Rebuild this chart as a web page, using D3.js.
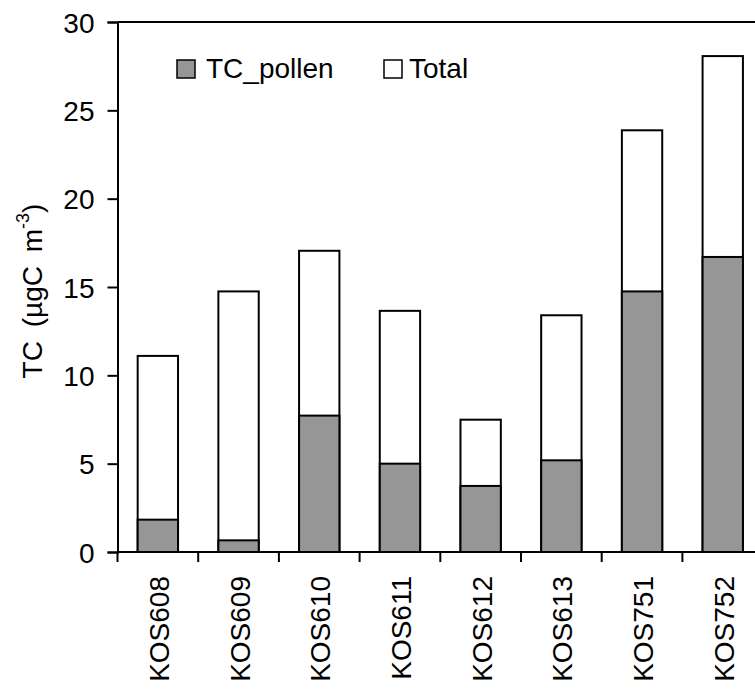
<!DOCTYPE html>
<html>
<head>
<meta charset="utf-8">
<script src="https://cdn.jsdelivr.net/npm/d3@7"></script>
<style>
  body { margin: 0; background: #fff; }
  text { font-family: "Liberation Sans", Arial, sans-serif; fill: #000; }
</style>
</head>
<body>
<svg id="chart" width="755" height="690"></svg>
<script>
// data
var samples = ['KOS608', 'KOS609', 'KOS610', 'KOS611', 'KOS612', 'KOS613', 'KOS751', 'KOS752'];
var pollen = [1.83, 0.66, 7.72, 5.0, 3.74, 5.19, 14.75, 16.7];
var total = [11.1, 14.75, 17.05, 13.65, 7.49, 13.4, 23.87, 28.07];
var yTicks = [0, 5, 10, 15, 20, 25, 30];
var seriesNames = ['TC_pollen', 'Total'];

var margin = { top: 22, left: 117.5, bottom: 138 };
var bandW = 80.7;

var svg = d3.select('#chart');
var H = 690;
var y0 = H - margin.bottom; // baseline

var x = d3.scaleBand()
    .domain(samples)
    .range([margin.left, margin.left + bandW * samples.length])
    .paddingInner(0.5)
    .paddingOuter(0.25);

var y = d3.scaleLinear()
    .domain([0, 30])
    .range([y0, margin.top]);

var g = svg.append('g');

// top frame line
g.append('line')
    .attr('x1', margin.left).attr('x2', 755)
    .attr('y1', y(30)).attr('y2', y(30))
    .attr('stroke', '#000').attr('stroke-width', 2);

// total bars (white)
g.selectAll('.tot')
    .data(samples)
    .enter().append('rect')
    .attr('class', 'tot')
    .attr('x', function (d) { return x(d); })
    .attr('width', x.bandwidth())
    .attr('y', function (d, i) { return y(total[i]); })
    .attr('height', function (d, i) { return y0 - y(total[i]); })
    .attr('fill', '#fff')
    .attr('stroke', '#000')
    .attr('stroke-width', 2);

// pollen bars (grey)
g.selectAll('.pol')
    .data(samples)
    .enter().append('rect')
    .attr('class', 'pol')
    .attr('x', function (d) { return x(d); })
    .attr('width', x.bandwidth())
    .attr('y', function (d, i) { return y(pollen[i]); })
    .attr('height', function (d, i) { return y0 - y(pollen[i]); })
    .attr('fill', '#969696')
    .attr('stroke', '#000')
    .attr('stroke-width', 2);

// y axis
var yAxis = d3.axisLeft(y)
    .tickValues(yTicks)
    .tickSize(10)
    .tickPadding(13);

var ya = g.append('g')
    .attr('transform', 'translate(' + margin.left + ',0)')
    .call(yAxis);
ya.select('.domain').attr('stroke-width', 2);
ya.selectAll('.tick line').attr('stroke-width', 2);
ya.selectAll('.tick text')
    .style('font-size', '28px')
    .attr('dy', '0.36em');

// x axis line + ticks at band boundaries
g.append('line')
    .attr('x1', margin.left).attr('x2', 755)
    .attr('y1', y0).attr('y2', y0)
    .attr('stroke', '#000').attr('stroke-width', 2);

g.selectAll('.xtick')
    .data(samples)
    .enter().append('line')
    .attr('class', 'xtick')
    .attr('x1', function (d) { return x(d) - x.step() * 0.25; })
    .attr('x2', function (d) { return x(d) - x.step() * 0.25; })
    .attr('y1', y0).attr('y2', y0 + 10)
    .attr('stroke', '#000').attr('stroke-width', 2);

g.selectAll('.xlab')
    .data(samples)
    .enter().append('text')
    .attr('class', 'xlab')
    .attr('transform', function (d) {
        return 'translate(' + (x(d) + x.bandwidth() / 2 + 11) + ',' + (y0 + 24) + ') rotate(-90)';
    })
    .attr('text-anchor', 'end')
    .style('font-size', '28px')
    .text(function (d) { return d; });

// y label
var yl = g.append('text')
    .attr('transform', 'translate(42,291) rotate(-90)')
    .attr('text-anchor', 'middle')
    .style('font-size', '28px')
    .style('word-spacing', '6px');
yl.append('tspan').text('TC (µgC m');
yl.append('tspan').attr('dy', -13).style('font-size', '18px').text('-3');
yl.append('tspan').attr('dy', 13).text(')');

// legend
var legX = [177, 384];
var legTextX = [206, 409];
var fills = ['#969696', '#fff'];
var leg = g.selectAll('.leg')
    .data(seriesNames)
    .enter().append('g')
    .attr('class', 'leg');
leg.append('rect')
    .attr('x', function (d, i) { return legX[i]; })
    .attr('y', 60)
    .attr('width', 18).attr('height', 18)
    .attr('fill', function (d, i) { return fills[i]; })
    .attr('stroke', '#000').attr('stroke-width', 1.5);
leg.append('text')
    .attr('x', function (d, i) { return legTextX[i]; })
    .attr('y', 78)
    .style('font-size', '28px')
    .text(function (d) { return d; });
</script>
</body>
</html>
